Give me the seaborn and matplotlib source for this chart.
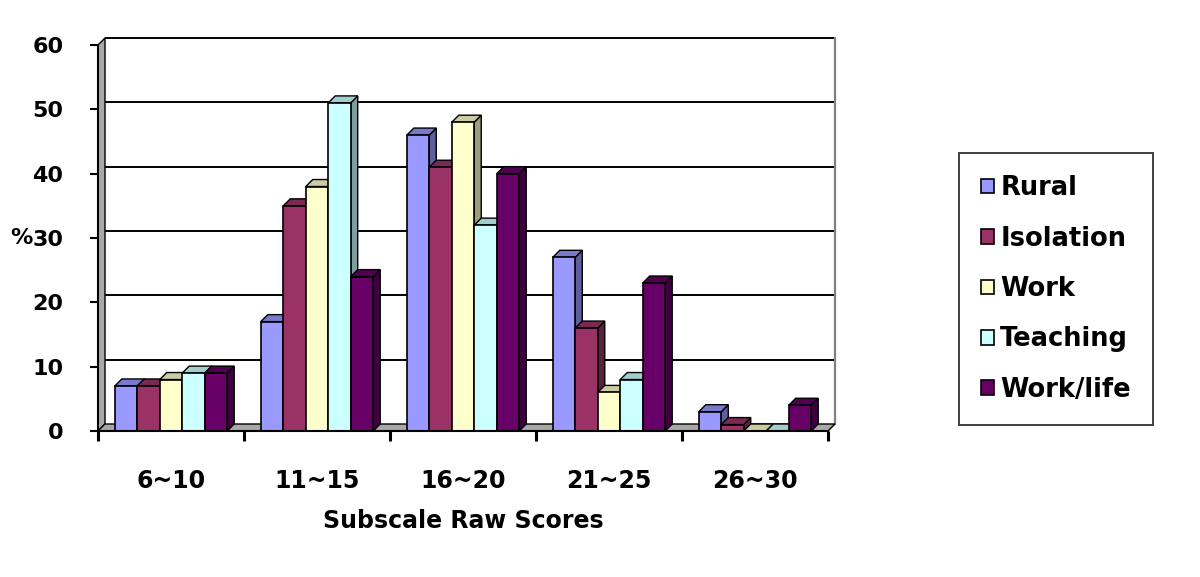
import numpy as np
import pandas as pd
import matplotlib
matplotlib.use("Agg")
import matplotlib.pyplot as plt
import matplotlib.colors as mcolors
from matplotlib.patches import Polygon
import seaborn as sns

categories = ["6~10", "11~15", "16~20", "21~25", "26~30"]
series = ["Rural", "Isolation", "Work", "Teaching", "Work/life"]
rural = [7, 17, 46, 27, 3]
isolation = [7, 35, 41, 16, 1]
work = [8, 38, 48, 6, 0]
teaching = [9, 51, 32, 8, 0]
worklife = [9, 24, 40, 23, 4]
yticks = [0, 10, 20, 30, 40, 50, 60]
colors = ["#9999FF", "#993366", "#FFFFCC", "#CCFFFF", "#660066"]

rows = []
for name, vals in zip(series, [rural, isolation, work, teaching, worklife]):
    for c, v in zip(categories, vals):
        rows.append({"Score": c, "Series": name, "Value": v})
df = pd.DataFrame(rows)

sns.set_theme(style="white")
plt.rcParams["font.family"] = ["DejaVu Sans"]
plt.rcParams["font.weight"] = "bold"
plt.rcParams["text.color"] = "black"
plt.rcParams["axes.labelcolor"] = "black"
plt.rcParams["xtick.color"] = "black"
plt.rcParams["ytick.color"] = "black"

W, H = 1200, 577
fig = plt.figure(figsize=(W / 100, H / 100), dpi=100)
fig.patch.set_facecolor("white")
ax = fig.add_axes([98 / W, 1 - 431 / H, 730 / W, 386 / H])

sns.barplot(data=df, x="Score", y="Value", hue="Series", order=categories,
            hue_order=series, palette=colors, saturation=1, width=0.77,
            edgecolor="black", linewidth=1.2, ax=ax)

ax.set_xlim(-0.5, 4.5)
ax.set_ylim(0, 60)
ax.grid(False)

# pixel depth offset converted to data units
DEPTH = 7
DX = DEPTH * 5 / 730
DY = DEPTH * 60 / 386

# back wall grid lines
for yv in yticks[1:]:
    ax.plot([-0.5 + DX, 4.5 + DX], [yv + DY, yv + DY], color="black", lw=1.4,
            zorder=1, clip_on=False, solid_capstyle="butt")
ax.plot([4.5 + DX, 4.5 + DX], [DY, 60 + DY], color="#808080", lw=1.6,
        zorder=1, clip_on=False)
# left wall
ax.add_patch(Polygon([(-0.5, 0), (-0.5 + DX, DY), (-0.5 + DX, 60 + DY), (-0.5, 60)],
                     closed=True, facecolor="#A8A8A8", edgecolor="black", lw=1.0,
                     zorder=1.5, clip_on=False))
# floor
ax.add_patch(Polygon([(-0.5, 0), (4.5, 0), (4.5 + DX, DY), (-0.5 + DX, DY)],
                     closed=True, facecolor="#A8A8A8", edgecolor="black", lw=1.0,
                     zorder=1.6, clip_on=False))

# 3D faces for bars
for i, cont in enumerate(ax.containers):
    for p in cont.patches:
        x0 = p.get_x()
        w = p.get_width()
        h = p.get_height()
        x1 = x0 + w
        base = np.array(mcolors.to_rgb(p.get_facecolor()))
        side = tuple(base * 0.62)
        top = tuple(base * 0.8)
        p.set_zorder(10 + 2 * i + 1)
        ax.add_patch(Polygon([(x1, 0), (x1 + DX, DY), (x1 + DX, h + DY), (x1, h)],
                             closed=True, facecolor=side, edgecolor="black", lw=1.0,
                             zorder=10 + 2 * i, clip_on=False))
        ax.add_patch(Polygon([(x0, h), (x1, h), (x1 + DX, h + DY), (x0 + DX, h + DY)],
                             closed=True, facecolor=top, edgecolor="black", lw=1.0,
                             zorder=10 + 2 * i, clip_on=False))

# axes styling
for s in ["top", "right"]:
    ax.spines[s].set_visible(False)
ax.spines["left"].set_color("black")
ax.spines["left"].set_linewidth(1.5)
ax.spines["bottom"].set_color("black")
ax.spines["bottom"].set_linewidth(1.5)
ax.spines["left"].set_zorder(30)
ax.spines["bottom"].set_zorder(30)

ax.set_yticks(yticks)
ax.set_yticklabels([str(v) for v in yticks])
ax.tick_params(axis="y", direction="out", length=6, width=1.5, color="black",
               pad=19, labelsize=16, left=True, labelcolor="black")
ax.set_xticks(np.arange(-0.5, 5, 1))
ax.set_xticklabels([])
ax.set_xticks(np.arange(5), minor=True)
ax.set_xticklabels(categories, minor=True)
ax.tick_params(axis="x", which="major", direction="out", length=7, width=2.2,
               color="black", bottom=True)
ax.tick_params(axis="x", which="minor", length=0, pad=27, labelsize=17,
               labelcolor="black")
for t in ax.get_yticklabels() + ax.get_xticklabels(minor=True):
    t.set_fontweight("bold")

ax.set_xlabel("Subscale Raw Scores", fontsize=17, fontweight="bold", labelpad=12,
              color="black")
ax.set_ylabel("%", fontsize=16, fontweight="bold", rotation=0, ha="right",
              va="center", color="black")
ax.yaxis.set_label_coords((33 - 98) / 730, 0.5)

leg = ax.get_legend()
handles = leg.legend_handles
labels = [t.get_text() for t in leg.get_texts()]
leg.remove()
lg = fig.legend(handles, labels, loc="center", bbox_to_anchor=(1056 / W, 1 - 289 / H),
                frameon=True, fancybox=False, shadow=False, edgecolor="black",
                prop={"size": 18.5, "weight": "bold"}, handlelength=0.5,
                handleheight=0.5, handletextpad=0.25, labelspacing=0.95,
                borderpad=0.85, borderaxespad=0)
lg.get_frame().set_linewidth(1.3)
for t in lg.get_texts():
    t.set_color("black")

fig.savefig("out.png", dpi=100)
